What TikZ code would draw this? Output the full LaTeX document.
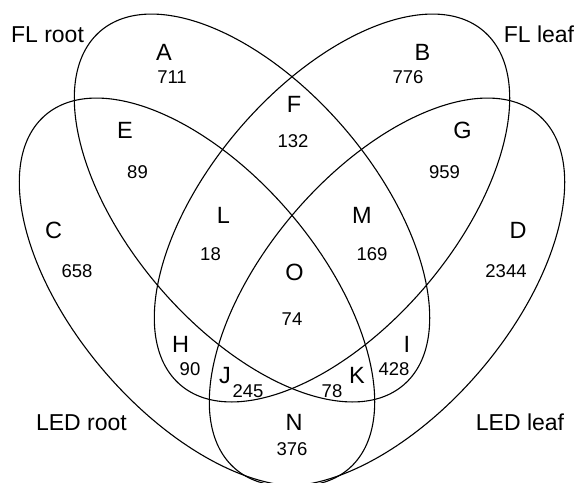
\documentclass[tikz,border=0pt]{standalone}
\usepackage{fontspec}
\setmainfont{Liberation Sans}
\begin{document}
\begin{tikzpicture}[x=1pt,y=-1pt,
  setline/.style={line width=1.1pt,black},
  setname/.style={anchor=base,inner sep=0pt,font=\fontsize{23}{24}\selectfont},
  reglabel/.style={anchor=base,inner sep=0pt,font=\fontsize{23.5}{24}\selectfont},
  regcount/.style={anchor=base,inner sep=0pt,font=\fontsize{18.5}{19}\selectfont}]
\useasboundingbox (0,0) rectangle (577,482);
\begin{scope}
\clip (0,0) rectangle (577,482);
\draw[setline, rotate around={-49.4:(252,208)}] (252,208) ellipse [x radius=233pt, y radius=122pt];
\draw[setline, rotate around={49.4:(332,208)}] (332,208) ellipse [x radius=233pt, y radius=122pt];
\draw[setline, rotate around={-49.4:(197,292)}] (197,292) ellipse [x radius=233pt, y radius=122pt];
\draw[setline, rotate around={49.4:(387,292)}] (387,292) ellipse [x radius=233pt, y radius=122pt];
\end{scope}
% set names
\node[setname] (flroot) at (47.5,42) {FL root};
\node[setname] (flleaf) at (539,42) {FL leaf};
\node[setname] (ledroot) at (81.5,430) {LED root};
\node[setname] (ledleaf) at (520,430) {LED leaf};
% region letters
\node[reglabel] (A) at (164,60) {A};
\node[reglabel] (B) at (422.5,60) {B};
\node[reglabel] (F) at (294,112) {F};
\node[reglabel] (E) at (125,138) {E};
\node[reglabel] (G) at (462.5,138) {G};
\node[reglabel] (C) at (53.5,238) {C};
\node[reglabel] (D) at (518,238) {D};
\node[reglabel] (L) at (223.5,223) {L};
\node[reglabel] (M) at (362,223) {M};
\node[reglabel] (O) at (294.5,280) {O};
\node[reglabel] (H) at (180.5,352) {H};
\node[reglabel] (I) at (407,352) {I};
\node[reglabel] (J) at (225,383) {J};
\node[reglabel] (K) at (357,383) {K};
\node[reglabel] (N) at (294,430) {N};
% counts
\node[regcount] (nA) at (172,83) {711};
\node[regcount] (nB) at (408,83) {776};
\node[regcount] (nF) at (293,147) {132};
\node[regcount] (nE) at (137.5,178) {89};
\node[regcount] (nG) at (444.5,178) {959};
\node[regcount] (nC) at (77,277) {658};
\node[regcount] (nD) at (506,277) {2344};
\node[regcount] (nL) at (210.5,260) {18};
\node[regcount] (nM) at (372,260) {169};
\node[regcount] (nO) at (292,325) {74};
\node[regcount] (nH) at (190,375) {90};
\node[regcount] (nI) at (394,375) {428};
\node[regcount] (nJ) at (248,397) {245};
\node[regcount] (nK) at (332,397) {78};
\node[regcount] (nN) at (292,455) {376};
\end{tikzpicture}
\end{document}
